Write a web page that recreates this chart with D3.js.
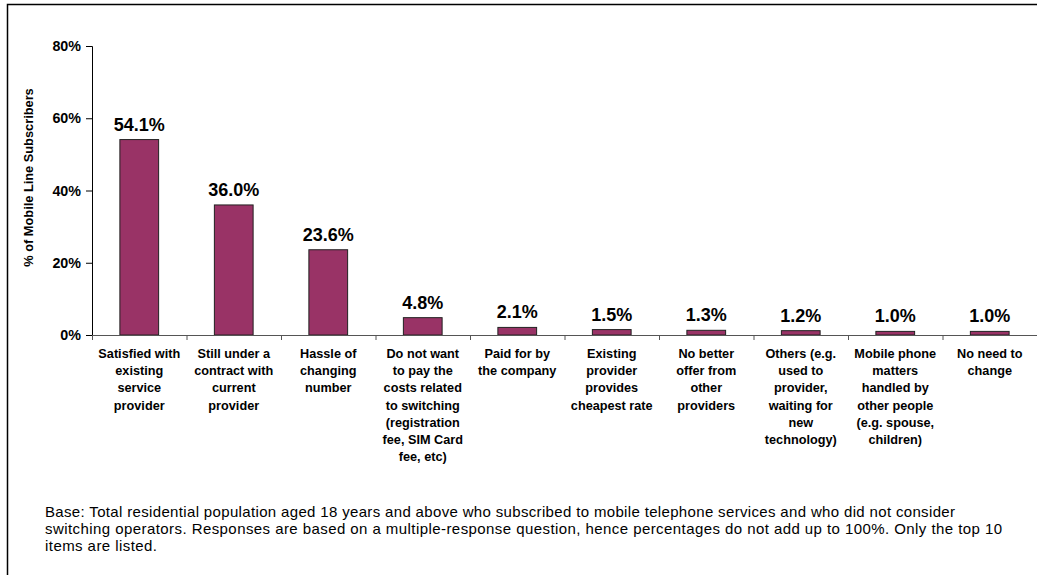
<!DOCTYPE html>
<html>
<head>
<meta charset="utf-8">
<script src="https://cdn.jsdelivr.net/npm/d3@7"></script>
<style>
  html, body { margin: 0; padding: 0; background: #fff; }
  svg { display: block; font-family: "Liberation Sans", Arial, sans-serif; }
</style>
</head>
<body>
<svg id="chart" width="1037" height="575"></svg>
<script>
// Reasons for not switching mobile operator (lines of each label separated by "|")
const categories = [
  "Satisfied with|existing|service|provider",
  "Still under a|contract with|current|provider",
  "Hassle of|changing|number",
  "Do not want|to pay the|costs related|to switching|(registration|fee, SIM Card|fee, etc)",
  "Paid for by|the company",
  "Existing|provider|provides|cheapest rate",
  "No better|offer from|other|providers",
  "Others (e.g.|used to|provider,|waiting for|new|technology)",
  "Mobile phone|matters|handled by|other people|(e.g. spouse,|children)",
  "No need to|change"
];
const values = [54.1, 36.0, 23.6, 4.8, 2.1, 1.5, 1.3, 1.2, 1.0, 1.0];
const yTicks = [0, 20, 40, 60, 80];
const yTitle = "% of Mobile Line Subscribers";
const footnote = [
  "Base: Total residential population aged 18 years and above who subscribed to mobile telephone services and who did not consider",
  "switching operators. Responses are based on a multiple-response question, hence percentages do not add up to 100%. Only the top 10",
  "items are listed."
];
const footnoteWidths = [910, 957, 112];

const svg = d3.select("#chart");

// outer frame (left and top edges visible)
svg.append("path")
  .attr("d", "M7.5,575 V4.5 H1037")
  .attr("fill", "none")
  .attr("stroke", "#000")
  .attr("stroke-width", 1.5);

const plot = { left: 92, right: 1037, top: 46, bottom: 335 };

const x = d3.scaleBand()
  .domain(d3.range(categories.length))
  .range([plot.left, plot.right])
  .paddingInner(0.59)
  .paddingOuter(0.295);

const y = d3.scaleLinear().domain([0, 80]).range([plot.bottom, plot.top]);

// y axis
const yAxis = svg.append("g")
  .attr("transform", `translate(${plot.left},0)`)
  .call(d3.axisLeft(y).tickValues(yTicks).tickFormat(d => d + "%").tickSize(6).tickPadding(5));
yAxis.select(".domain").attr("stroke", "#000").attr("stroke-width", 1);
yAxis.selectAll(".tick line").attr("stroke", "#000");
yAxis.selectAll(".tick text")
  .attr("font-size", 14.3).attr("font-weight", "bold").attr("fill", "#000")
  .attr("font-family", "Liberation Sans, Arial, sans-serif");

// y axis title
svg.append("text")
  .attr("transform", "translate(33,177.5) rotate(-90)")
  .attr("text-anchor", "middle")
  .attr("font-size", 12.8)
  .attr("font-weight", "bold")
  .text(yTitle);

// bars
svg.append("g").selectAll("rect")
  .data(values)
  .join("rect")
  .attr("x", (d, i) => x(i))
  .attr("y", d => y(d))
  .attr("width", x.bandwidth())
  .attr("height", d => y(0) - y(d))
  .attr("fill", "#993366")
  .attr("stroke", "#222")
  .attr("stroke-width", 1);

// category axis: baseline and tick marks between categories
const step = x.step();
svg.append("line")
  .attr("x1", plot.left).attr("x2", plot.right)
  .attr("y1", plot.bottom + 0.5).attr("y2", plot.bottom + 0.5)
  .attr("stroke", "#555").attr("stroke-width", 1);
svg.append("g").selectAll("line")
  .data(d3.range(categories.length + 1))
  .join("line")
  .attr("x1", i => plot.left + i * step + 0.5)
  .attr("x2", i => plot.left + i * step + 0.5)
  .attr("y1", plot.bottom)
  .attr("y2", plot.bottom + 5)
  .attr("stroke", "#555");

// value labels
svg.append("g").selectAll("text")
  .data(values)
  .join("text")
  .attr("x", (d, i) => x(i) + x.bandwidth() / 2)
  .attr("y", d => y(d) - 9)
  .attr("text-anchor", "middle")
  .attr("font-size", 18)
  .attr("font-weight", "bold")
  .text(d => d.toFixed(1) + "%");

// category labels
const catG = svg.append("g");
categories.forEach((c, i) => {
  const t = catG.append("text")
    .attr("x", x(i) + x.bandwidth() / 2)
    .attr("y", 358)
    .attr("text-anchor", "middle")
    .attr("font-size", 12.7)
    .attr("font-weight", "bold");
  c.split("|").forEach((line, j) => {
    t.append("tspan")
      .attr("x", x(i) + x.bandwidth() / 2)
      .attr("y", 358 + j * 17.2)
      .text(line);
  });
});

// footnote
svg.append("g").selectAll("text")
  .data(footnote)
  .join("text")
  .attr("x", 45)
  .attr("y", (d, i) => 517 + i * 17)
  .attr("font-size", 15)
  .attr("textLength", (d, i) => footnoteWidths[i])
  .attr("lengthAdjust", "spacing")
  .attr("fill", "#000")
  .text(d => d);
</script>
</body>
</html>
